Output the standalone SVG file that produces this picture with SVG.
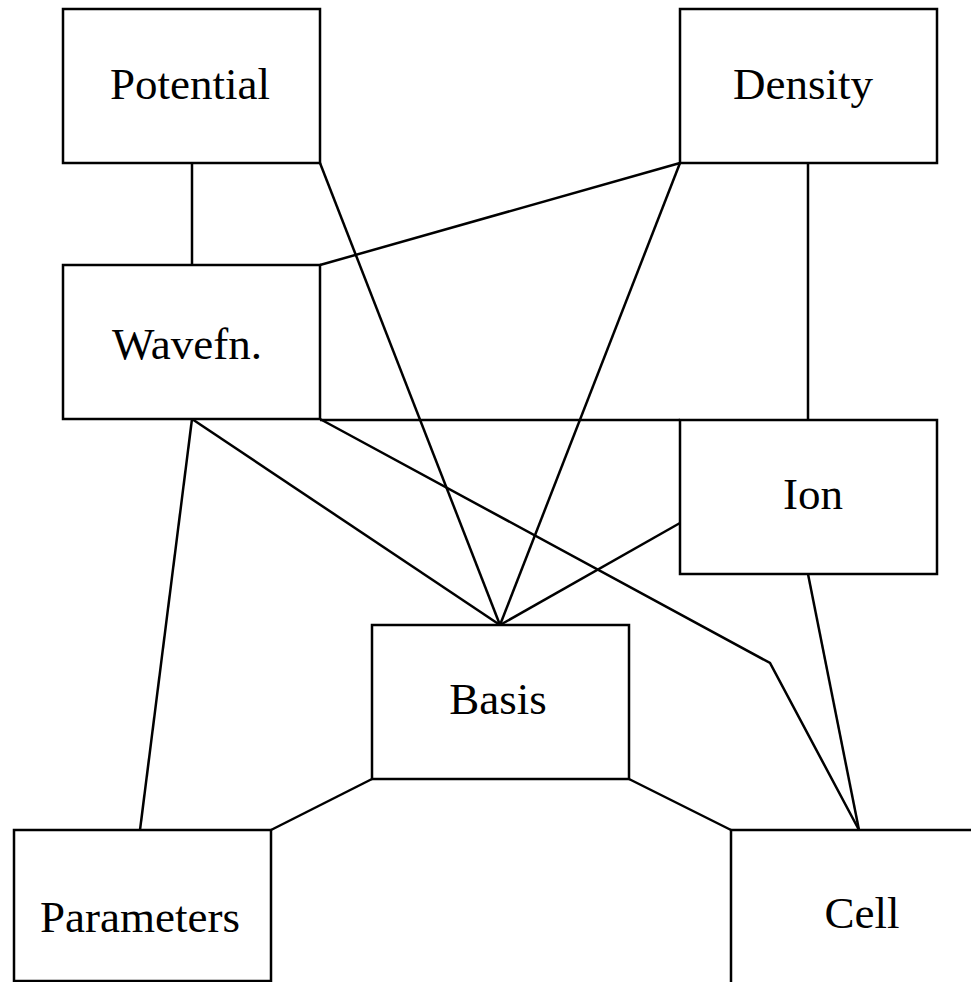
<svg xmlns="http://www.w3.org/2000/svg" width="971" height="982" viewBox="0 0 971 982">
  <style>
    .box { fill: #ffffff; stroke: #000000; stroke-width: 2.5; }
    .edge { fill: none; stroke: #000000; stroke-width: 2.5; stroke-linejoin: miter; }
    .label { font-family: "Liberation Serif", "Times New Roman", serif; font-size: 45px; fill: #000000; text-anchor: middle; }
  </style>
  <rect width="971" height="982" fill="#ffffff"/>

  <g id="connectors">
    <line class="edge" x1="192" y1="163" x2="192" y2="265"/>
    <line class="edge" x1="808" y1="163" x2="808" y2="420"/>
    <line class="edge" x1="320" y1="420" x2="680" y2="420"/>
    <line class="edge" x1="320" y1="163" x2="500" y2="625"/>
    <line class="edge" x1="680" y1="163" x2="500" y2="625"/>
    <line class="edge" x1="680" y1="163" x2="320" y2="265"/>
    <line class="edge" x1="192" y1="419" x2="500" y2="625"/>
    <line class="edge" x1="192" y1="419" x2="140" y2="830"/>
    <polyline class="edge" points="320,419 770,663 859,830"/>
    <line class="edge" x1="680" y1="523" x2="500" y2="625"/>
    <line class="edge" x1="808" y1="574" x2="859" y2="830"/>
    <line class="edge" x1="372" y1="779" x2="271" y2="830"/>
    <line class="edge" x1="629" y1="779" x2="731" y2="830"/>
  </g>

  <g id="potential">
    <rect class="box" x="63" y="9" width="257" height="154"/>
    <text class="label" x="190" y="99">Potential</text>
  </g>
  <g id="density">
    <rect class="box" x="680" y="9" width="257" height="154"/>
    <text class="label" x="803" y="99">Density</text>
  </g>
  <g id="wavefn">
    <rect class="box" x="63" y="265" width="257" height="154"/>
    <text class="label" x="187" y="359">Wavefn.</text>
  </g>
  <g id="ion">
    <rect class="box" x="680" y="420" width="257" height="154"/>
    <text class="label" x="813" y="509">Ion</text>
  </g>
  <g id="basis">
    <rect class="box" x="372" y="625" width="257" height="154"/>
    <text class="label" x="498" y="714">Basis</text>
  </g>
  <g id="parameters">
    <rect class="box" x="14" y="830" width="257" height="151"/>
    <text class="label" x="140" y="932">Parameters</text>
  </g>
  <g id="cell">
    <rect class="box" x="731" y="830" width="257" height="170"/>
    <text class="label" x="862" y="928">Cell</text>
  </g>
</svg>
